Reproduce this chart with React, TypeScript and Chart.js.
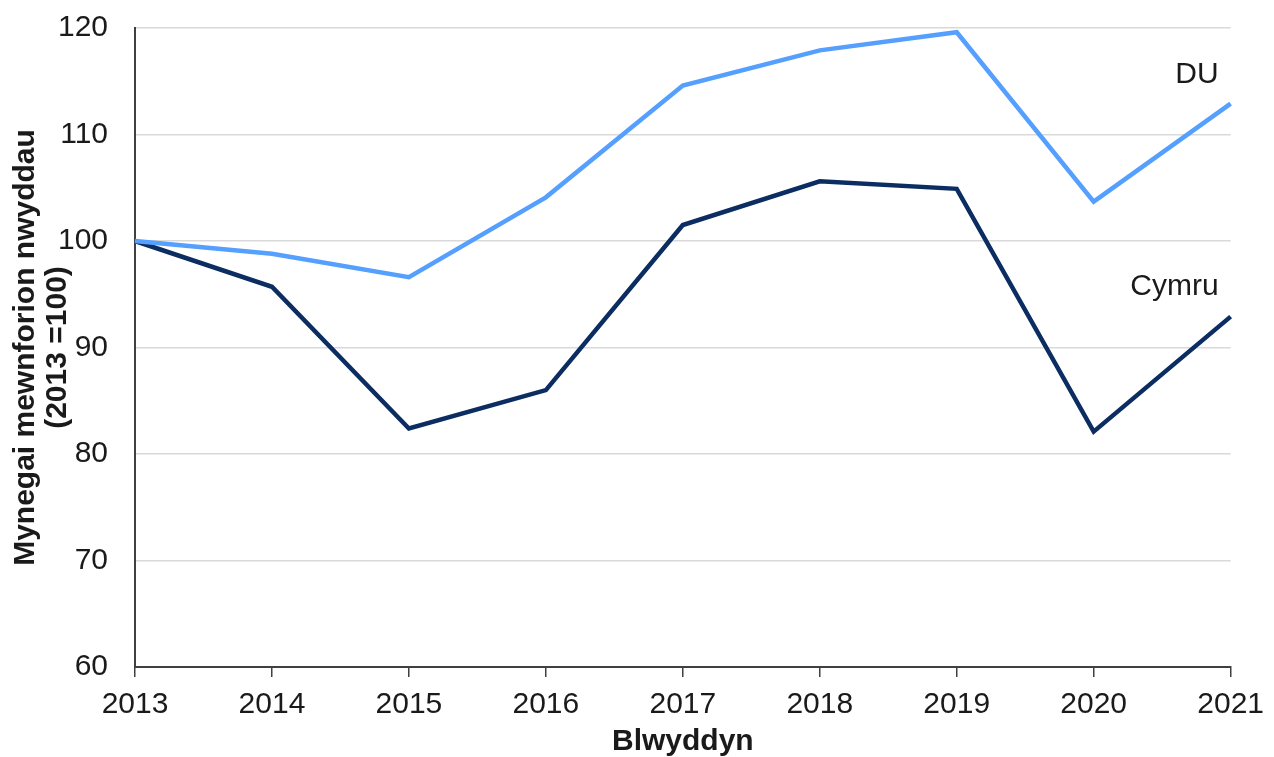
import React, { useEffect, useRef } from 'react';
import { Chart, registerables } from 'chart.js';

Chart.register(...registerables);

const years = ['2013', '2014', '2015', '2016', '2017', '2018', '2019', '2020', '2021'];
const ukValues = [100, 98.8, 96.6, 104.1, 114.6, 117.9, 119.6, 103.7, 112.9];
const walesValues = [100, 95.7, 82.4, 86.0, 101.5, 105.6, 104.9, 82.1, 92.9];
const seriesNames = ['DU', 'Cymru'];
const yTitle = ['Mynegai mewnforion nwyddau', '(2013 =100)'];
const xTitle = 'Blwyddyn';
const yMin = 60;
const yMax = 120;
const yStep = 10;

const FONT = "'Liberation Sans', Arial, sans-serif";

const seriesLabelPlugin = {
  id: 'seriesLabels',
  afterDatasetsDraw(chart: any) {
    const { ctx, scales } = chart;
    const xs = scales.x;
    const ys = scales.y;
    const anchorsY = [115.6, 95.75];
    ctx.save();
    ctx.font = `30px ${FONT}`;
    ctx.fillStyle = '#1a1a1a';
    ctx.textAlign = 'right';
    ctx.textBaseline = 'middle';
    chart.data.datasets.forEach((ds: any, i: number) => {
      const x = xs.getPixelForValue(years.length - 1) - 12;
      const y = ys.getPixelForValue(anchorsY[i]);
      ctx.fillText(ds.label, x, y);
    });
    ctx.restore();
  },
};

export default function App() {
  const ref = useRef<HTMLCanvasElement>(null);

  useEffect(() => {
    document.body.style.margin = '0';
    const canvas = ref.current;
    if (!canvas) return;
    const chart = new Chart(canvas, {
      type: 'line',
      data: {
        labels: years,
        datasets: [
          {
            label: seriesNames[0],
            data: ukValues,
            borderColor: '#559fff',
            backgroundColor: '#559fff',
            borderWidth: 4.5,
            pointRadius: 0,
            tension: 0,
            borderJoinStyle: 'miter',
          },
          {
            label: seriesNames[1],
            data: walesValues,
            borderColor: '#0b2d62',
            backgroundColor: '#0b2d62',
            borderWidth: 4.5,
            pointRadius: 0,
            tension: 0,
            borderJoinStyle: 'miter',
          },
        ],
      },
      options: {
        responsive: false,
        animation: false,
        maintainAspectRatio: false,
        layout: { padding: { left: 0, right: 43, top: 28, bottom: 0 } },
        plugins: {
          legend: { display: false },
          tooltip: { enabled: false },
        },
        scales: {
          x: {
            type: 'category',
            offset: false,
            grid: {
              display: true,
              drawOnChartArea: false,
              drawTicks: true,
              tickLength: 10,
              color: '#404040',
              lineWidth: 1.5,
            },
            border: { display: true, color: '#404040', width: 2 },
            ticks: {
              color: '#1a1a1a',
              font: { family: FONT, size: 30 },
              padding: 10,
              maxRotation: 0,
              autoSkip: false,
            },
            title: {
              display: true,
              text: xTitle,
              color: '#1a1a1a',
              font: { family: FONT, size: 30, weight: 'bold', lineHeight: 1.05 },
              padding: { top: 0, bottom: 0 },
            },
            afterFit(scale: any) {
              scale.height = 90;
            },
          },
          y: {
            min: yMin,
            max: yMax,
            grid: {
              color: '#d9d9d9',
              lineWidth: 1.5,
              drawTicks: false,
            },
            border: { display: true, color: '#404040', width: 2 },
            ticks: {
              stepSize: yStep,
              color: '#1a1a1a',
              font: { family: FONT, size: 30, lineHeight: 0.05 },
              padding: 27,
            },
            title: {
              display: true,
              text: yTitle,
              color: '#1a1a1a',
              font: { family: FONT, size: 30, weight: 'bold', lineHeight: 1.05 },
              padding: { top: 10, bottom: 0 },
            },
            afterFit(scale: any) {
              scale.width = 135;
            },
          },
        },
      },
      plugins: [seriesLabelPlugin],
    });
    return () => chart.destroy();
  }, []);

  return (
    <div style={{ width: 1274, height: 757 }}>
      <canvas ref={ref} width={1274} height={757} style={{ display: 'block', width: 1274, height: 757 }} />
    </div>
  );
}
